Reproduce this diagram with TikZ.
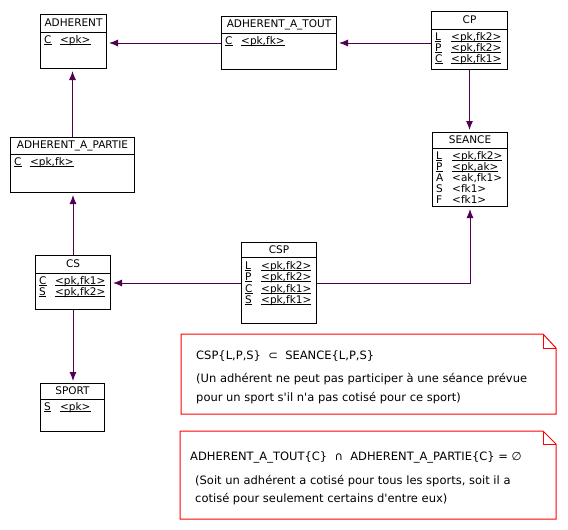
\documentclass[tikz,border=0pt]{standalone}
\usepackage{fontspec}
\setmainfont{DejaVu Sans}[Ligatures=TeXOff]
\usetikzlibrary{arrows.meta}
\definecolor{linkcol}{RGB}{80,0,80}
\definecolor{notered}{RGB}{255,0,0}
\newcommand\ul[1]{\setbox0\hbox{#1}\rlap{\rule[-1.6pt]{\wd0}{0.8pt}}\box0}
\tikzset{
  entity/.style={draw=black, line width=1pt, inner sep=0pt, anchor=north west},
  etitle/.style={inner sep=0pt, font=\fontsize{10.5}{12}\selectfont},
  erow/.style={inner sep=0pt, anchor=base west, font=\fontsize{10.5}{12}\selectfont},
  link/.style={draw=linkcol, line width=1pt, -{Latex[length=9pt,width=7pt]}, shorten >=2pt},
  noteline/.style={draw=notered, line width=1pt},
  notetext/.style={inner sep=0pt, anchor=base west, font=\fontsize{11.5}{14}\selectfont},
}
\newcommand\entbox[7]{%
  \node[entity, minimum width=#4pt, minimum height=#5pt] (#1) at (#2,#3) {};
  \draw[line width=1pt] ([yshift=-#6pt]#1.north west) -- ([yshift=-#6pt]#1.north east);
  \node[etitle] (#1-t) at ([yshift=-#6pt/2]#1.north) {#7};
}
\newcommand\erow[5]{%
  \node[erow] (#1-k#5) at ([xshift=4pt,yshift=-#2pt]#1.north west) {#3};
  \node[erow] (#1-v#5) at ([xshift=20pt,yshift=-#2pt]#1.north west) {#4};
}
\begin{document}
\begin{tikzpicture}[x=1pt,y=-1pt]
\useasboundingbox[fill=white] (0,0) rectangle (568,530);

% entities
\entbox{adh}{40}{14}{66}{54}{18}{ADHERENT}
\erow{adh}{29.5}{\ul{C}}{\ul{<pk>}}{1}

\entbox{aat}{221}{16}{115}{53}{17}{ADHERENT\_A\_TOUT}
\erow{aat}{28.5}{\ul{C}}{\ul{<pk,fk>}}{1}

\entbox{cp}{431}{11}{76}{58}{18}{CP}
\erow{cp}{29.5}{\ul{L}}{\ul{<pk,fk2>}}{1}
\erow{cp}{40.5}{\ul{P}}{\ul{<pk,fk2>}}{2}
\erow{cp}{51.5}{\ul{C}}{\ul{<pk,fk1>}}{3}

\entbox{aap}{10}{137}{124}{55}{17}{ADHERENT\_A\_PARTIE}
\erow{aap}{28.5}{\ul{C}}{\ul{<pk,fk>}}{1}

\entbox{seance}{432}{132}{75}{74}{16}{SEANCE}
\erow{seance}{27.5}{\ul{L}}{\ul{<pk,fk2>}}{1}
\erow{seance}{38.5}{\ul{P}}{\ul{<pk,ak>}}{2}
\erow{seance}{49.5}{A}{<ak,fk1>}{3}
\erow{seance}{60.5}{S}{<fk1>}{4}
\erow{seance}{71.5}{F}{<fk1>}{5}

\entbox{cs}{35}{255}{75}{54}{18}{CS}
\erow{cs}{29.5}{\ul{C}}{\ul{<pk,fk1>}}{1}
\erow{cs}{40.5}{\ul{S}}{\ul{<pk,fk2>}}{2}

\entbox{csp}{241}{242}{75}{81}{15}{CSP}
\erow{csp}{27}{\ul{L}}{\ul{<pk,fk2>}}{1}
\erow{csp}{38.5}{\ul{P}}{\ul{<pk,fk2>}}{2}
\erow{csp}{50}{\ul{C}}{\ul{<pk,fk1>}}{3}
\erow{csp}{61.5}{\ul{S}}{\ul{<pk,fk1>}}{4}

\entbox{sport}{40}{383}{64}{48}{16}{SPORT}
\erow{sport}{27.5}{\ul{S}}{\ul{<pk>}}{1}

% links
\draw[link] (aat.west) -- (aat.west -| adh.east);
\draw[link] (aat.east -| cp.west) -- (aat.east);
\draw[link] (aap.north) -- (aap.north |- adh.south);
\draw[link] (cp.south) -- (cp.south |- seance.north);
\draw[link] (cs.north) -- (cs.north |- aap.south);
\draw[link] (cs.south) -- (cs.south |- sport.north);
\draw[link] (csp.west) -- (csp.west -| cs.east);
\draw[link] (csp.east) -| (seance.south);

% note 1
\draw[noteline] (181,334) -- (543,334) -- (556,348) -- (556,414) -- (181,414) -- cycle;
\draw[noteline] (543,334) -- (543,348) -- (556,348);
\node[notetext] (n1a) at (196,359) {CSP\{L,P,S\}\ \ ⊂\ \ SEANCE\{L,P,S\}};
\node[notetext] (n1b) at (196,382) {(Un adhérent ne peut pas participer à une séance prévue};
\node[notetext] (n1c) at (196,401) {pour un sport s'il n'a pas cotisé pour ce sport)};

% note 2
\draw[noteline] (180,431) -- (543,431) -- (556,444) -- (556,519) -- (180,519) -- cycle;
\draw[noteline] (543,431) -- (543,444) -- (556,444);
\node[notetext] (n2a) at (190,460) {ADHERENT\_A\_TOUT\{C\}\ \ ∩\ \ ADHERENT\_A\_PARTIE\{C\} = ∅};
\node[notetext] (n2b) at (195,484) {(Soit un adhérent a cotisé pour tous les sports, soit il a};
\node[notetext] (n2c) at (195,502) {cotisé pour seulement certains d'entre eux)};
\end{tikzpicture}
\end{document}
